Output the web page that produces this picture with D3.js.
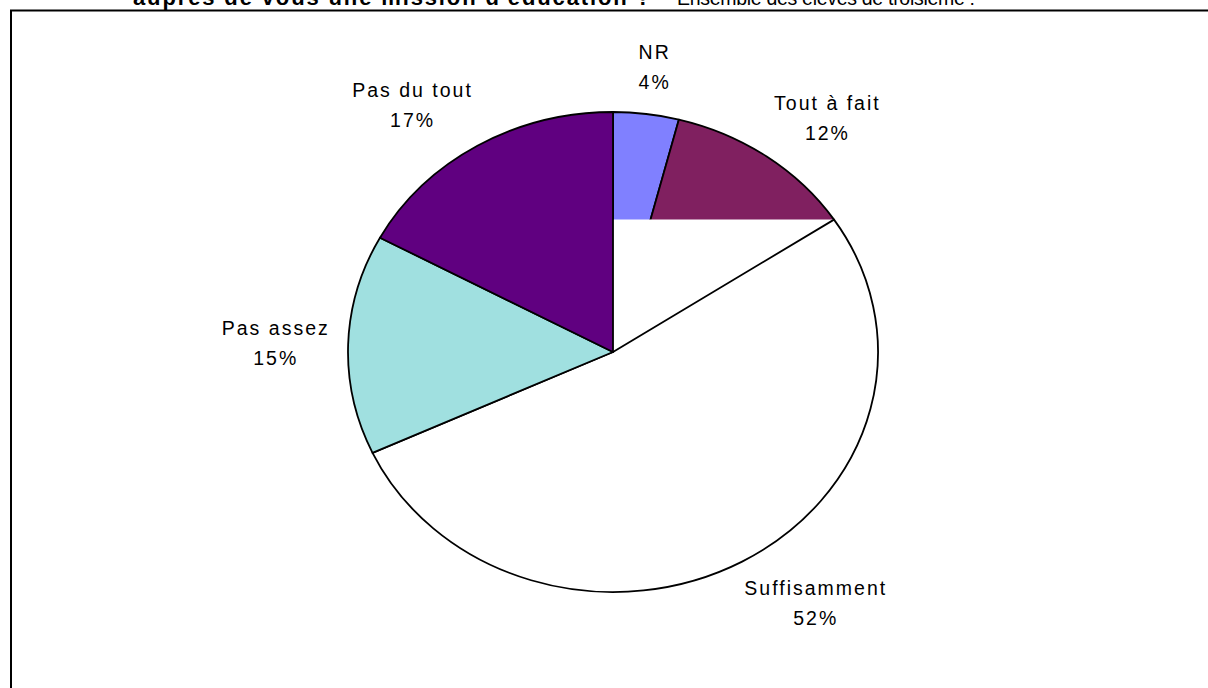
<!DOCTYPE html>
<html>
<head>
<meta charset="utf-8">
<script src="https://cdn.jsdelivr.net/npm/d3@7"></script>
<style>
  html, body { margin: 0; padding: 0; background: #fff; overflow: hidden; }
  text { font-family: "Liberation Sans", Arial, sans-serif; fill: #000; }
</style>
</head>
<body>
<div id="chart"></div>
<script>
// réponses (en %), ordre des secteurs depuis midi, sens horaire
var categories = ["NR", "Tout à fait", "Suffisamment", "Pas assez", "Pas du tout"];
var values = [4.0, 11.7, 52.4, 14.8, 17.1];
var colors = ["#8080FF", "#802060", "#FFFFFF", "#A0E0E0", "#600080"];
var titleBold = "auprès de vous une mission d'éducation ?";
var titleRest = "Ensemble des élèves de troisième :";

(function () {
    var width = 1208, height = 688;
    var cx = 613, cy = 352, rx = 265, ry = 240;

    var data = categories.map(function (c, i) {
        return {name: c, value: values[i], color: colors[i]};
    });

    var svg = d3.select("#chart")
        .append("svg")
        .attr("width", width)
        .attr("height", height);

    // cadre du graphique (coupé à droite et en bas)
    svg.append("rect")
        .attr("x", 11)
        .attr("y", 10.5)
        .attr("width", 1300)
        .attr("height", 800)
        .attr("fill", "none")
        .attr("stroke", "#000")
        .attr("stroke-width", 2);

    // titre (coupé en haut, comme sur l'original)
    svg.append("text")
        .attr("x", 133)
        .attr("y", 5)
        .attr("textLength", 517)
        .attr("lengthAdjust", "spacing")
        .style("font-size", "22px")
        .style("font-weight", "bold")
        .text(titleBold);
    svg.append("text")
        .attr("x", 677)
        .attr("y", 5)
        .attr("textLength", 298)
        .attr("lengthAdjust", "spacing")
        .style("font-size", "19.5px")
        .text(titleRest);

    var pie = d3.pie().sort(null).value(d => d.value);
    var arcs = pie(data);
    var arc = d3.arc().innerRadius(0).outerRadius(ry);

    var g = svg.append("g")
        .attr("transform", "translate(" + cx + "," + cy + ") scale(" + (rx / ry) + ",1)");

    arcs.forEach(function (a, i) {
        if (i == 2) {
            // défaut de remplissage du secteur "Suffisamment" repris de l'original
            var e = arcs[1].endAngle;
            var y = -ry * Math.cos(e), x = ry * Math.sin(e);
            g.append("path")
                .attr("d", "M0,0L0," + y + "L" + x + "," + y + "Z")
                .attr("fill", a.data.color);
        }
        g.append("path")
            .attr("d", arc(a))
            .attr("fill", a.data.color)
            .attr("stroke", "#000")
            .attr("stroke-width", 1.8)
            .attr("stroke-linejoin", "round")
            .attr("vector-effect", "non-scaling-stroke");
    });

    // étiquettes
    var labels = svg.append("g")
        .style("font-size", "19.5px")
        .style("letter-spacing", "2px");

    arcs.forEach(function (a) {
        var mid = (a.startAngle + a.endAngle) / 2;
        var s = Math.sin(mid), c = Math.cos(mid);
        var k = 1.1;
        var lab = labels.append("text").attr("text-anchor", "middle");
        var t1 = lab.append("tspan").text(a.data.name);
        var t2 = lab.append("tspan").text(Math.round(a.data.value) + "%");
        var w = Math.max(t1.node().getComputedTextLength(), t2.node().getComputedTextLength());
        var h = 47;
        var lx = cx + rx * k * s + Math.sign(s) * 0.85 * (w / 2) * Math.min(1, 3 * Math.abs(s));
        var ly = cy - ry * k * c - c * h / 2;
        t1.attr("x", lx).attr("y", ly - 8);
        t2.attr("x", lx).attr("y", ly + 22);
    });
})();
</script>
</body>
</html>
